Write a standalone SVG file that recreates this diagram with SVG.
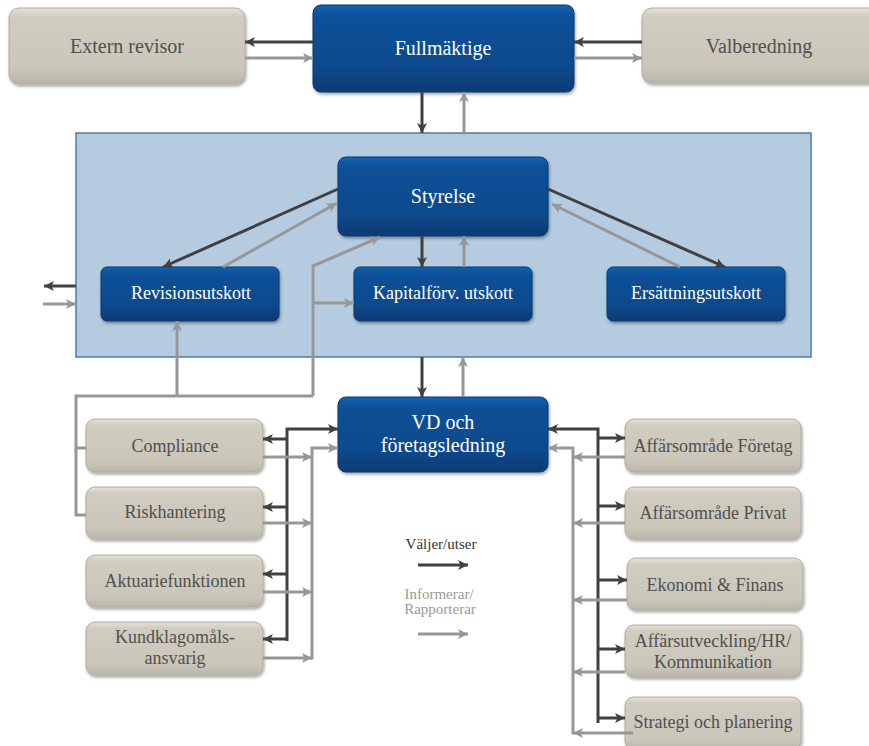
<svg xmlns="http://www.w3.org/2000/svg" width="869" height="746" viewBox="0 0 869 746" font-family="'Liberation Serif', 'DejaVu Serif', serif">
<defs>
<linearGradient id="navy" x1="0" y1="0" x2="0" y2="1">
<stop offset="0" stop-color="#1463b0"/>
<stop offset="0.12" stop-color="#0c5199"/>
<stop offset="0.7" stop-color="#0a4a8d"/>
<stop offset="1" stop-color="#073a74"/>
</linearGradient>
<linearGradient id="beige" x1="0" y1="0" x2="0" y2="1">
<stop offset="0" stop-color="#e4e1d8"/>
<stop offset="0.12" stop-color="#d0ccc0"/>
<stop offset="0.8" stop-color="#cac6b9"/>
<stop offset="1" stop-color="#b9b5a8"/>
</linearGradient>
<filter id="sh" x="-10%" y="-10%" width="120%" height="130%">
<feDropShadow dx="1" dy="2" stdDeviation="1.8" flood-color="#000" flood-opacity="0.35"/>
</filter>
<marker id="ad" markerUnits="userSpaceOnUse" markerWidth="11" markerHeight="10" refX="10" refY="5" orient="auto" viewBox="0 0 11 10">
<path d="M0,0 L10,5 L0,10 L2.5,5 z" fill="#404040"/>
</marker>
<marker id="ag" markerUnits="userSpaceOnUse" markerWidth="11" markerHeight="10" refX="10" refY="5" orient="auto" viewBox="0 0 11 10">
<path d="M0,0 L10,5 L0,10 L2.5,5 z" fill="#979797"/>
</marker>
</defs>
<style>
.n rect{fill:url(#navy);stroke:#0a3a70;stroke-width:1;filter:url(#sh)}
.b rect{fill:url(#beige);stroke:#b0ac9f;stroke-width:1;filter:url(#sh)}
text{font-family:'Liberation Serif','DejaVu Serif',serif;text-anchor:middle}
.n text{fill:#ffffff;font-size:20px}
.n.s text{font-size:18px}
.b text{fill:#505050;font-size:18px}
.b.l text{font-size:20px}
.d{fill:none;stroke:#404040;stroke-width:3;marker-end:url(#ad)}
.g{fill:none;stroke:#979797;stroke-width:3;marker-end:url(#ag)}
.dn{fill:none;stroke:#404040;stroke-width:3}
.gn{fill:none;stroke:#979797;stroke-width:3}
</style>

<g id="styrelse-area">
<rect x="76" y="133" width="735" height="224" fill="#b4cbe0" stroke="#4f7ba3" stroke-width="1.5"/>
</g>

<g id="extern-revisor" class="b l">
<rect x="9" y="8" width="236" height="76" rx="10"/>
<text x="127" y="53">Extern revisor</text>
</g>
<g id="fullmaktige" class="n">
<rect x="313" y="5" width="261" height="87" rx="8"/>
<text x="443" y="55">Fullmäktige</text>
</g>
<g id="valberedning" class="b l">
<rect x="642" y="8" width="240" height="75" rx="10"/>
<text x="759" y="53">Valberedning</text>
</g>

<g id="styrelse" class="n">
<rect x="338" y="157" width="210" height="79" rx="8"/>
<text x="443" y="203">Styrelse</text>
</g>
<g id="revisionsutskott" class="n s">
<rect x="101" y="267" width="178" height="54" rx="6"/>
<text x="191" y="299">Revisionsutskott</text>
</g>
<g id="kapitalforv-utskott" class="n s">
<rect x="354" y="267" width="178" height="54" rx="6"/>
<text x="443" y="299">Kapitalförv. utskott</text>
</g>
<g id="ersattningsutskott" class="n s">
<rect x="607" y="267" width="178" height="54" rx="6"/>
<text x="696" y="299">Ersättningsutskott</text>
</g>

<g id="vd" class="n">
<rect x="338" y="397" width="210" height="75" rx="8"/>
<text x="443" y="429">VD och</text>
<text x="443" y="452">företagsledning</text>
</g>

<g id="compliance" class="b">
<rect x="86" y="419" width="177" height="53" rx="9"/>
<text x="175" y="452">Compliance</text>
</g>
<g id="riskhantering" class="b">
<rect x="86" y="487" width="177" height="52" rx="9"/>
<text x="175" y="518">Riskhantering</text>
</g>
<g id="aktuariefunktionen" class="b">
<rect x="86" y="555" width="177" height="52" rx="9"/>
<text x="175" y="587">Aktuariefunktionen</text>
</g>
<g id="kundklagomal" class="b">
<rect x="86" y="622" width="177" height="53" rx="9"/>
<text x="175" y="643">Kundklagomåls-</text>
<text x="175" y="664">ansvarig</text>
</g>

<g id="ao-foretag" class="b">
<rect x="625" y="419" width="176" height="53" rx="9"/>
<text x="713" y="452">Affärsområde Företag</text>
</g>
<g id="ao-privat" class="b">
<rect x="625" y="487" width="176" height="52" rx="9"/>
<text x="713" y="519">Affärsområde Privat</text>
</g>
<g id="ekonomi" class="b">
<rect x="627" y="558" width="176" height="52" rx="9"/>
<text x="715" y="591">Ekonomi &amp; Finans</text>
</g>
<g id="affarsutveckling" class="b">
<rect x="625" y="625" width="176" height="52" rx="9"/>
<text x="713" y="647">Affärsutveckling/HR/</text>
<text x="713" y="668">Kommunikation</text>
</g>
<g id="strategi" class="b">
<rect x="625" y="697" width="176" height="53" rx="9"/>
<text x="713" y="728">Strategi och planering</text>
</g>

<g id="connectors">
<path class="d" d="M313,42 L245,42"/>
<path class="g" d="M245,58 L313,58"/>
<path class="d" d="M642,42 L574,42"/>
<path class="g" d="M574,58 L642,58"/>
<path class="d" d="M422,92 L422,133"/>
<path class="g" d="M464,133 L464,92"/>
<path class="d" d="M338,189 L163,267"/>
<path class="g" d="M223,267 L337,203"/>
<path class="d" d="M422,236 L422,267"/>
<path class="g" d="M464,267 L464,236"/>
<path class="d" d="M548,189 L725,267"/>
<path class="g" d="M680,267 L552,204"/>
<path class="g" d="M313,396 L313,266 L380,237"/>
<path class="g" d="M313,303 L354,303"/>
<path class="d" d="M76,286 L44,286"/>
<path class="g" d="M43,304 L76,304"/>
<path class="d" d="M422,357 L422,397"/>
<path class="g" d="M463,397 L463,357"/>
<path class="gn" d="M86,448 L76,448 L76,396 L313,396"/>
<path class="gn" d="M76,448 L76,515 L86,515"/>
<path class="g" d="M177,396 L177,321"/>
<path class="d" d="M287,641 L287,429 L338,429"/>
<path class="d" d="M287,439 L263,439"/>
<path class="d" d="M287,507 L263,507"/>
<path class="d" d="M287,574 L263,574"/>
<path class="d" d="M287,639 L263,639"/>
<path class="g" d="M312,659.5 L312,448 L338,448"/>
<path class="g" d="M263,457 L312,457"/>
<path class="g" d="M263,523 L312,523"/>
<path class="g" d="M263,592 L312,592"/>
<path class="g" d="M263,658 L312,658"/>
<path class="d" d="M598,723 L598,429 L548,429"/>
<path class="d" d="M598,438 L625,438"/>
<path class="d" d="M598,506 L625,506"/>
<path class="d" d="M598,580 L627,580"/>
<path class="d" d="M598,649 L625,649"/>
<path class="d" d="M598,718 L625,718"/>
<path class="g" d="M573,734.5 L573,448 L548,448"/>
<path class="g" d="M625,457 L573,457"/>
<path class="g" d="M625,523 L573,523"/>
<path class="g" d="M627,600 L573,600"/>
<path class="g" d="M625,672 L573,672"/>
<path class="g" d="M633,733 L573,733"/>
</g>

<g id="legend">
<text x="441" y="549" style="font-size:15px;fill:#333333">Väljer/utser</text>
<path class="d" d="M418,565 L468,565"/>
<text x="439" y="599" style="font-size:15px;fill:#9a9a9a">Informerar/</text>
<text x="440" y="614" style="font-size:15px;fill:#9a9a9a">Rapporterar</text>
<path class="g" d="M418,634 L468,634"/>
</g>
</svg>
